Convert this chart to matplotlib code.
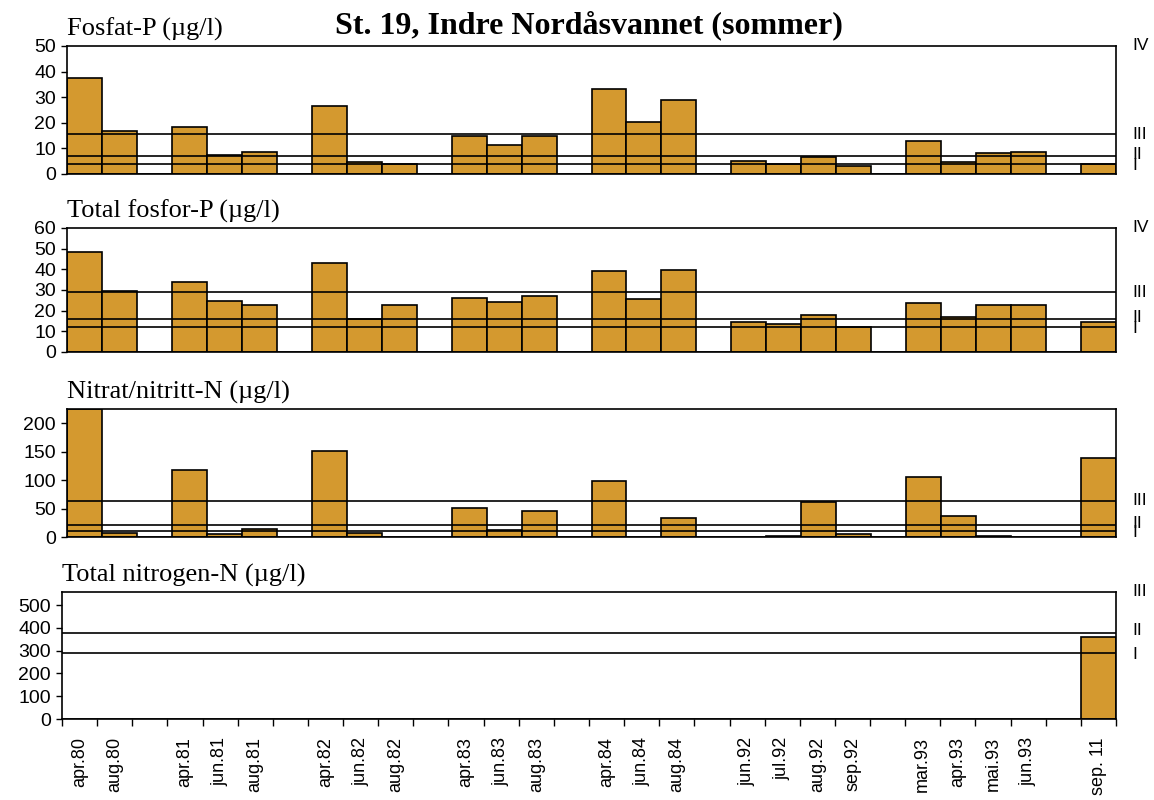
import numpy as np
import matplotlib
matplotlib.use('Agg')
import matplotlib.pyplot as plt

# sampling dates (None = empty slot between campaigns)
dates = ['apr.80', 'aug.80', None, 'apr.81', 'jun.81', 'aug.81', None,
         'apr.82', 'jun.82', 'aug.82', None, 'apr.83', 'jun.83', 'aug.83', None,
         'apr.84', 'jun.84', 'aug.84', None, 'jun.92', 'jul.92', 'aug.92', 'sep.92', None,
         'mar.93', 'apr.93', 'mai.93', 'jun.93', None, 'sep. 11']

fosfat = [37.5, 16.9, None, 18.4, 7.4, 8.6, None, 26.6, 4.6, 3.8, None,
          15.0, 11.3, 15.0, None, 33.3, 20.3, 28.8, None, 5.2, 3.9, 6.8, 3.2, None,
          12.9, 4.6, 8.2, 8.7, None, 3.9]
tot_p = [48.4, 29.7, None, 34.0, 24.5, 22.8, None, 43.3, 16.0, 22.8, None,
         26.1, 24.4, 27.1, None, 39.1, 25.5, 39.8, None, 14.3, 13.5, 17.8, 11.9, None,
         23.6, 16.8, 22.8, 22.8, None, 14.3]
nitrat = [225, 7.6, None, 117.6, 5.3, 14.7, None, 151, 7.6, None, None,
          51.7, 11.8, 45.3, None, 99.3, None, 33.5, None, None, 2, 61.2, 5.8, None,
          104.6, 37, 2, None, None, 138.8]
tot_n = [None] * 29 + [361.5]

# class limits (value, label)
fosfat_cls = [(4, 'I'), (7, 'II'), (15.5, 'III')]
tot_p_cls = [(12, 'I'), (16, 'II'), (29, 'III')]
nitrat_cls = [(11, 'I'), (20.5, 'II'), (64, 'III')]
tot_n_cls = [(290, 'I'), (380, 'II')]

W, H = 1154, 800
fig = plt.figure(figsize=(W / 100, H / 100), dpi=100)
bar_col = '#D4992F'
sans = 'Liberation Sans'
serif = 'Liberation Serif'


def px_rect(l, t, r, b):
    return [l / W, 1 - b / H, (r - l) / W, (b - t) / H]


panels = [
    ('Fosfat-P (µg/l)', fosfat, fosfat_cls, (0, 50), [0, 10, 20, 30, 40, 50], 'IV', (67, 46, 1116, 174)),
    ('Total fosfor-P (µg/l)', tot_p, tot_p_cls, (0, 60), [0, 10, 20, 30, 40, 50, 60], 'IV', (67, 228, 1116, 352)),
    ('Nitrat/nitritt-N (µg/l)', nitrat, nitrat_cls, (0, 225), [0, 50, 100, 150, 200], None, (67, 409, 1116, 537)),
    ('Total nitrogen-N (µg/l)', tot_n, tot_n_cls, (0, 558), [0, 100, 200, 300, 400, 500], 'III', (62, 592, 1116, 719)),
]

x = np.arange(len(dates))
for k, (name, vals, cls, ylim, yticks, toplab, box) in enumerate(panels):
    ax = fig.add_axes(px_rect(*box))
    h = [v if v is not None else 0 for v in vals]
    ax.bar(x, h, width=1.0, color=bar_col, edgecolor='black', linewidth=1.2, zorder=2)
    for val, lab in cls:
        ax.axhline(val, color='black', linewidth=1.2, zorder=3)
        # I and II sit close together, as in the original
        dy = {'I': -0.6, 'II': 0.6}.get(lab, 0) * (ylim[1] / 50)
        ax.text(1.016, val + dy, lab, transform=ax.get_yaxis_transform(), va='center', ha='left',
                fontsize=12.5, family=sans)
    if toplab:
        ax.text(1.016, ylim[1], toplab, transform=ax.get_yaxis_transform(), va='center', ha='left',
                fontsize=12.5, family=sans)
    ax.set_xlim(-0.5, len(dates) - 0.5)
    ax.set_ylim(*ylim)
    ax.set_yticks(yticks)
    ax.set_yticklabels([str(t) for t in yticks], fontsize=14, family=sans)
    ax.tick_params(axis='y', length=4, width=1, pad=4)
    for s in ax.spines.values():
        s.set_linewidth(1.2)
    ax.text(0.0, 1.04, name, transform=ax.transAxes, ha='left', va='bottom',
            fontsize=19, family=serif)
    if k < 3:
        ax.set_xticks([])
    else:
        ax.set_xticks(x)
        ax.set_xticklabels([d if d else '' for d in dates], rotation=90, fontsize=13, family=sans)
        ax.tick_params(axis='x', which='major', length=0, pad=13)
        ax.set_xticks(np.arange(-0.5, len(dates)), minor=True)
        ax.tick_params(axis='x', which='minor', length=5, width=1)

fig.text(589 / W, 1 - 33 / H, 'St. 19, Indre Nordåsvannet (sommer)', ha='center', va='baseline',
         fontsize=23, fontweight='bold', family=serif)

fig.savefig('out.png', dpi=100)
